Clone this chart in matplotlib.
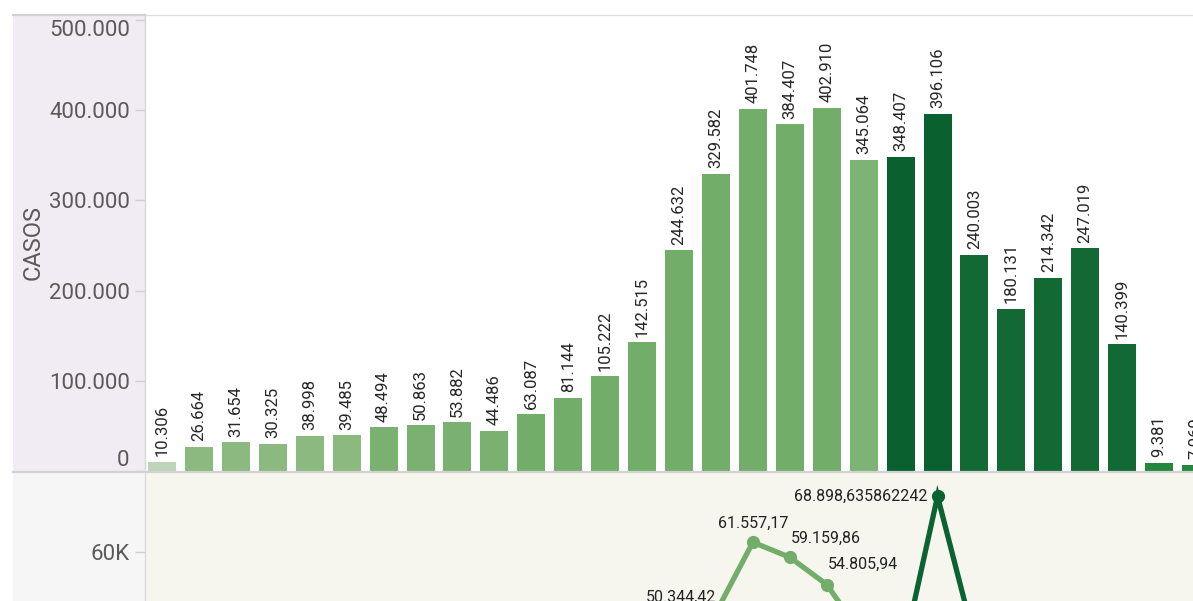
import matplotlib
matplotlib.use("Agg")
import matplotlib.pyplot as plt
from matplotlib.patches import Rectangle
from matplotlib.lines import Line2D
from matplotlib.ticker import FuncFormatter
import matplotlib.transforms as mtransforms
import numpy as np

plt.rcParams['font.family'] = ['Roboto', 'DejaVu Sans']

# ---------------- data ----------------
cases = [10306, 26664, 31654, 30325, 38998, 39485, 48494, 50863, 53882, 44486,
         63087, 81144, 105222, 142515, 244632, 329582, 401748, 384407, 402910,
         345064, 348407, 396106, 240003, 180131, 214342, 247019, 140399, 9381, 7069]
case_labels = ["10.306", "26.664", "31.654", "30.325", "38.998", "39.485", "48.494",
               "50.863", "53.882", "44.486", "63.087", "81.144", "105.222", "142.515",
               "244.632", "329.582", "401.748", "384.407", "402.910", "345.064",
               "348.407", "396.106", "240.003", "180.131", "214.342", "247.019",
               "140.399", "9.381", "7.069"]
bar_colors = ["#bfd4b8"] + ["#8cb97f"] * 5 + ["#7bb170"] * 4 + ["#72ad69"] * 9 + \
             ["#7db475"] + ["#0b6030"] * 2 + ["#126934"] * 5 + ["#24873e"] * 2

# line series (values below the visible window are left unknown: None)
line_vals = [None] * 15 + [50344.42, 61557.17, 59159.86, 54805.94, 46400.0,
                           42100.0, 68898.635862242, 46000.0] + [None] * 6
line_labels = {15: "50.344,42", 16: "61.557,17", 17: "59.159,86",
               18: "54.805,94", 21: "68.898,635862242"}
light_idx = list(range(0, 20))
dark_idx = list(range(19, 29))

yticks_top = [0, 100000, 200000, 300000, 400000, 500000]
yticks_bot = [60000]

# ---------------- figure ----------------
W, H = 1193, 601
fig = plt.figure(figsize=(W / 100, H / 100), dpi=100)
fig.patch.set_facecolor("white")

def fx(px):
    return px / W

def fy(py):
    return 1 - py / H

# panel backgrounds for the axis zones
fig.add_artist(Rectangle((fx(13), fy(471)), fx(145) - fx(13), fy(14) - fy(471),
                         transform=fig.transFigure, facecolor="#f1ebf3", edgecolor="none", zorder=0))
fig.add_artist(Rectangle((fx(13), fy(601)), fx(145) - fx(13), fy(472) - fy(601),
                         transform=fig.transFigure, facecolor="#f6f6f6", edgecolor="none", zorder=0))

TICK_FS = 16

# top axes (bars)
ax = fig.add_axes([fx(145), fy(471), 1 - fx(145), fy(14) - fy(471)])
ax.set_facecolor("white")
x = np.arange(len(cases))
step = 36.93
x_left = (145 - 162) / step
x_right = (1193 - 162) / step
ax.bar(x, cases, width=28 / step, color=bar_colors, zorder=2)
ax.set_xlim(x_left, x_right)
ax.set_ylim(0, 506700)
for xi, v, lab in zip(x, cases, case_labels):
    ax.annotate(lab, (xi, v), xytext=(0, 4), textcoords="offset points",
                rotation=90, ha="center", va="bottom", fontsize=12,
                color="#262626", annotation_clip=False)
ax.set_xticks([])
ax.set_yticks(yticks_top)
ax.yaxis.set_major_formatter(FuncFormatter(lambda v, p: f"{int(v):,}".replace(",", ".")))
ax.tick_params(axis="y", length=7, width=1, color="#d0d0d0", labelcolor="#5a5a5a",
               labelsize=TICK_FS, pad=4)
for s in ["top", "right", "bottom"]:
    ax.spines[s].set_visible(False)
ax.spines["left"].set_color("#d6d6d6")
ax.spines["left"].set_linewidth(1)
fig.canvas.draw()
labels = ax.get_yticklabels()
labels[-1].set_va("top")
labels[0].set_transform(labels[0].get_transform() +
                        mtransforms.ScaledTranslation(0, 13 / 100, fig.dpi_scale_trans))

# y-axis title
fig.text(fx(33), fy(242), "CASOS", rotation=90, ha="center", va="center",
         fontsize=17, color="#5a5a5a")

# bottom axes (line)
ax2 = fig.add_axes([fx(145), 0, 1 - fx(145), fy(472)])
ax2.set_facecolor("#f6f6ef")
ax2.set_xlim(x_left, x_right)
ax2.set_ylim(52185, 72760)
lv = np.array([np.nan if v is None else v for v in line_vals], dtype=float)
ax2.plot(np.array(light_idx), lv[light_idx], color="#72ad69", lw=3.8,
         marker="o", markersize=8.5, zorder=3, solid_joinstyle="miter")
ax2.plot(np.array(dark_idx), lv[dark_idx], color="#0b6330", lw=3.8,
         marker="o", markersize=8.5, zorder=3, solid_joinstyle="miter")
offsets = {15: (0, 11, "right", "center"), 16: (0, 13.5, "center", "center"),
           17: (1, 13.5, "left", "center"), 18: (1, 14.5, "left", "center"),
           21: (-7, 0, "right", "center")}
for i, txt in line_labels.items():
    dx, dy, ha, va = offsets[i]
    ax2.annotate(txt, (i, lv[i]), xytext=(dx, dy), textcoords="offset points",
                 ha=ha, va=va, fontsize=11.5, color="#222222", annotation_clip=False)
ax2.set_xticks([])
ax2.set_yticks(yticks_bot)
ax2.yaxis.set_major_formatter(FuncFormatter(lambda v, p: f"{int(v/1000)}K"))
ax2.tick_params(axis="y", length=7, width=1, color="#d0d0d0", labelcolor="#5a5a5a",
                labelsize=TICK_FS, pad=4)
for s in ["top", "right", "bottom"]:
    ax2.spines[s].set_visible(False)
ax2.spines["left"].set_color("#d6d6d6")

# separator lines
fig.add_artist(Line2D([fx(13), 1], [fy(471.5), fy(471.5)], transform=fig.transFigure,
                      color="#d2d2d2", lw=1.6, zorder=5))
fig.add_artist(Line2D([fx(145), 1], [fy(14.5), fy(14.5)], transform=fig.transFigure,
                      color="#dedede", lw=0.9, zorder=5))
fig.add_artist(Line2D([fx(13), fx(145)], [fy(14.5), fy(14.5)], transform=fig.transFigure,
                      color="#d2d2d2", lw=1.6, zorder=5))

fig.savefig("out.png", dpi=100)
